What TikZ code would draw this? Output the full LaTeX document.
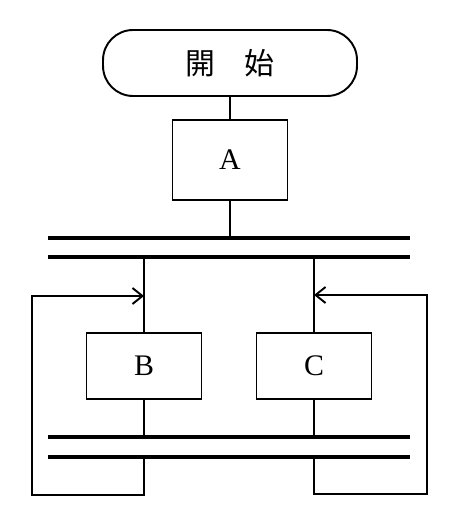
\documentclass[tikz,border=0pt]{standalone}
\usepackage{fontspec}
\setmainfont{Liberation Serif}
\newfontfamily\jpfont{Noto Sans CJK JP}
\usetikzlibrary{arrows.meta}
\tikzset{
	flow/.style={line width=1.1pt},
	bar/.style={line width=2.6pt},
	loopin/.style={flow, -{Straight Barb[length=0.2cm, width=0.32cm, line width=1.1pt]}},
	proc/.style={draw, line width=1.1pt, minimum width=2.3cm, minimum height=1.32cm, inner sep=0pt, font=\fontsize{17}{20}\selectfont},
	term/.style={draw, line width=1.1pt, rounded corners=0.6cm, minimum width=5.08cm, minimum height=1.32cm, inner sep=0pt, font=\fontsize{17}{20}\selectfont}
}

\begin{document}
\begin{tikzpicture}[x=0.02cm, y=-0.02cm]
		%%%%% START %%%%%
		\useasboundingbox (0, 0) rectangle (458, 526);
		
		\node[term] (start) at (230, 63) {\jpfont 開　始};
		\node[proc, minimum height=1.6cm] (a) at (230, 160) {A};
		\node[proc] (b) at (144, 366) {B};
		\node[proc] (c) at (314, 366) {C};
		
		% double bars
		\coordinate (top1l) at (48, 238); \coordinate (top1r) at (410, 238);
		\coordinate (top2l) at (48, 257); \coordinate (top2r) at (410, 257);
		\coordinate (bot1l) at (48, 437); \coordinate (bot1r) at (410, 437);
		\coordinate (bot2l) at (48, 457); \coordinate (bot2r) at (410, 457);
		\draw[bar] (top1l) -- (top1r);
		\draw[bar] (top2l) -- (top2r);
		\draw[bar] (bot1l) -- (bot1r);
		\draw[bar] (bot2l) -- (bot2r);
		
		% loop corners
		\coordinate (bloopb) at (32, 495); \coordinate (bloopt) at (32, 296);
		\coordinate (cloopb) at (427, 494); \coordinate (cloopt) at (427, 295);
		
		\draw[flow] (start) -- (a);
		\draw[flow] (a.south) -- (a.south |- top1l);
		\draw[flow] (b.north |- top2l) -- (b);
		\draw[flow] (c.north |- top2r) -- (c);
		\draw[flow] (b) -- (b.south |- bot1l);
		\draw[flow] (c) -- (c.south |- bot1r);
		
		\draw[loopin] (b.south |- bot2l) -- (b.south |- bloopb) -- (bloopb) -- (bloopt) -- (b.north |- bloopt);
		\draw[loopin] (c.south |- bot2r) -- (c.south |- cloopb) -- (cloopb) -- (cloopt) -- (c.north |- cloopt);
		
		%%%%% END %%%%%
	\end{tikzpicture}
\end{document}
